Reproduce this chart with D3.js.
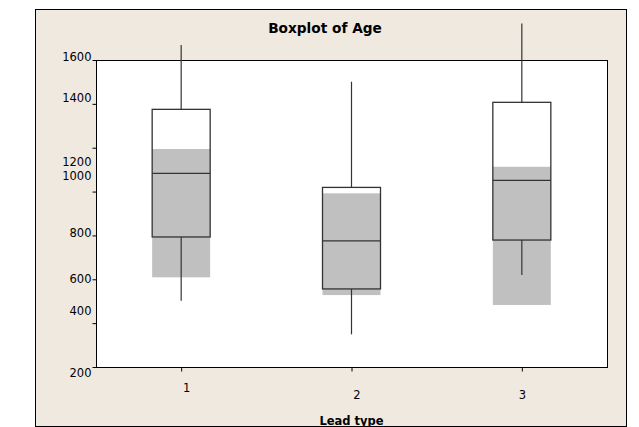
<!DOCTYPE html>
<html>
<head>
<meta charset="utf-8">
<script src="https://cdn.jsdelivr.net/npm/d3@7"></script>
<style>
  html, body { margin: 0; padding: 0; background: #ffffff; }
  svg { display: block; }
</style>
</head>
<body>
<svg id="chart" width="639" height="427"></svg>
<script>
// Age by lead type: five-number summaries plus shaded interval bands
const leadTypes   = ["1", "2", "3"];
const whiskerLow  = [502, 349, 620];
const q1          = [793, 556, 779];
const median      = [1083, 775, 1051];
const q3          = [1375, 1019, 1407];
const whiskerHigh = [1668, 1501, 1767];
const bandLow     = [609, 528, 483];
const bandHigh    = [1194, 992, 1113];
const yTickValues = [200, 400, 600, 800, 1000, 1200, 1400, 1600];

const title = "Boxplot of Age";
const xTitle = "Lead type";

const svg = d3.select("#chart");
const font = "'DejaVu Sans', Verdana, sans-serif";

const plot = { left: 96, right: 607, top: 60, bottom: 367 };

const y = d3.scaleLinear().domain([200, 1600]).range([plot.bottom, plot.top]);
const x = d3.scalePoint().domain(leadTypes).range([plot.left, plot.right]).padding(0.5);
const boxW = 58;

// outer panel
svg.append("rect")
  .attr("x", 35.5).attr("y", 9.5)
  .attr("width", 591).attr("height", 417)
  .attr("fill", "#f0e9e0").attr("stroke", "#000").attr("stroke-width", 1);

// plot area
svg.append("rect")
  .attr("x", plot.left + 0.5).attr("y", plot.top + 0.5)
  .attr("width", plot.right - plot.left).attr("height", plot.bottom - plot.top)
  .attr("fill", "#ffffff").attr("stroke", "#000").attr("stroke-width", 1);

const rows = leadTypes.map((k, i) => ({
  k, lo: whiskerLow[i], q1: q1[i], med: median[i], q3: q3[i], hi: whiskerHigh[i],
  bLo: bandLow[i], bHi: bandHigh[i]
}));

const g = svg.append("g");

// shaded bands
g.selectAll("rect.band").data(rows).join("rect")
  .attr("class", "band")
  .attr("x", d => x(d.k) - boxW / 2)
  .attr("width", boxW)
  .attr("y", d => y(d.bHi))
  .attr("height", d => y(d.bLo) - y(d.bHi))
  .attr("fill", "#c0c0c0");

const lineColor = "#333";

// whiskers
g.selectAll("line.wHi").data(rows).join("line")
  .attr("x1", d => x(d.k)).attr("x2", d => x(d.k))
  .attr("y1", d => y(d.q3)).attr("y2", d => y(d.hi))
  .attr("stroke", lineColor).attr("stroke-width", 1.2);
g.selectAll("line.wLo").data(rows).join("line")
  .attr("x1", d => x(d.k)).attr("x2", d => x(d.k))
  .attr("y1", d => y(d.q1)).attr("y2", d => y(d.lo))
  .attr("stroke", lineColor).attr("stroke-width", 1.2);

// boxes
g.selectAll("rect.box").data(rows).join("rect")
  .attr("class", "box")
  .attr("x", d => x(d.k) - boxW / 2)
  .attr("width", boxW)
  .attr("y", d => y(d.q3))
  .attr("height", d => y(d.q1) - y(d.q3))
  .attr("fill", "none").attr("stroke", lineColor).attr("stroke-width", 1.3);

// medians
g.selectAll("line.med").data(rows).join("line")
  .attr("x1", d => x(d.k) - boxW / 2).attr("x2", d => x(d.k) + boxW / 2)
  .attr("y1", d => y(d.med)).attr("y2", d => y(d.med))
  .attr("stroke", lineColor).attr("stroke-width", 1.3);

// y axis
const yLabelShift = { 1600: -3, 1400: -6, 1200: 14, 1000: -16, 800: -3, 600: 0, 400: -12, 200: 6 };
const yAxis = svg.append("g")
  .attr("transform", `translate(${plot.left + 0.5},0)`)
  .call(d3.axisLeft(y).tickValues(yTickValues).tickSize(4).tickPadding(1).tickFormat(d3.format("d")));
yAxis.select(".domain").remove();
yAxis.selectAll(".tick line").attr("stroke", "#000");
yAxis.selectAll(".tick text")
  .attr("y", d => yLabelShift[d])
  .attr("fill", "#000")
  .style("font-family", font).style("font-size", "11.5px");

// x axis
const xLabelShift = { "1": [5, -4], "2": [5, 3], "3": [0, 3] };
const xAxis = svg.append("g")
  .attr("transform", `translate(0,${plot.bottom + 0.5})`)
  .call(d3.axisBottom(x).tickSize(4).tickPadding(6));
xAxis.select(".domain").remove();
xAxis.selectAll(".tick line").attr("stroke", "#000");
xAxis.selectAll(".tick text")
  .attr("x", d => xLabelShift[d][0])
  .attr("y", d => 20 + xLabelShift[d][1])
  .attr("fill", "#000")
  .style("font-family", font).style("font-size", "11.5px");

// titles
svg.append("text")
  .attr("x", 325).attr("y", 33)
  .attr("text-anchor", "middle")
  .style("font-family", font).style("font-size", "13.7px").style("font-weight", "bold")
  .text(title);

svg.append("text")
  .attr("x", (plot.left + plot.right) / 2).attr("y", 424.5)
  .attr("text-anchor", "middle")
  .style("font-family", font).style("font-size", "11.5px").style("font-weight", "bold")
  .text(xTitle);
</script>
</body>
</html>
